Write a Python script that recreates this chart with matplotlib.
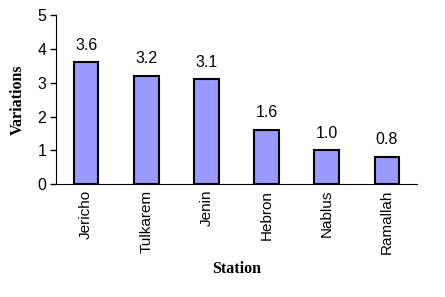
import matplotlib.pyplot as plt

# Data
stations = ['Jericho', 'Tulkarem', 'Jenin', 'Hebron', 'Nablus', 'Ramallah']
variations = [3.6, 3.2, 3.1, 1.6, 1.0, 0.8]

plt.rcParams['font.family'] = ['Liberation Sans', 'DejaVu Sans']

fig = plt.figure(figsize=(4.45, 2.97), dpi=100)
ax = fig.add_axes([0.126, 0.380, 0.811, 0.569])

x = range(len(stations))
bars = ax.bar(x, variations, width=0.41, color='#9999FF',
              edgecolor='black', linewidth=1.5)

# Value labels above each bar
for xi, v in zip(x, variations):
    ax.annotate(f'{v:.1f}', (xi, v), xytext=(0, 7),
                textcoords='offset points', ha='center', va='bottom',
                fontsize=11.5)

ax.set_xlim(-0.5, len(stations) - 0.5)
ax.set_ylim(0, 5)
ax.set_yticks([0, 1, 2, 3, 4, 5])
ax.set_xticks(list(x))
ax.set_xticklabels(stations, rotation=90, fontsize=11)
ax.tick_params(axis='x', length=0, pad=4)
ax.tick_params(axis='y', length=4, width=1, labelsize=11.5, pad=3)

ax.spines['top'].set_visible(False)
ax.spines['right'].set_visible(False)

ax.set_ylabel('Variations', family='Liberation Serif', fontweight='bold',
              fontsize=11.5, labelpad=8)
ax.set_xlabel('Station', family='Liberation Serif', fontweight='bold',
              fontsize=11.5, labelpad=5)

plt.savefig('out.png', dpi=100)
